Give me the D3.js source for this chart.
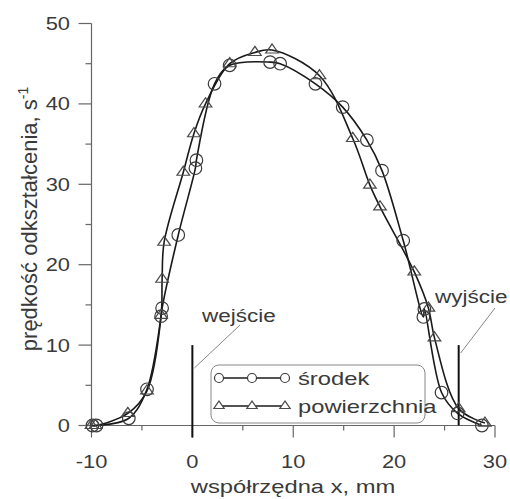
<!DOCTYPE html>
<html>
<head>
<meta charset="utf-8">
<script src="https://cdn.jsdelivr.net/npm/d3@7"></script>
<style>
  body { margin: 0; background: #fff; }
  svg text { font-family: "Liberation Sans", Arial, sans-serif; fill: #3a3a3a; }
</style>
</head>
<body>
<div id="chart"></div>
<script>
// środek (circles)
const srodekX = [-9.9, -9.5, -6.3, -4.5, -3.1, -3.0, -1.4, 0.3, 0.4, 2.2, 3.7, 7.7, 8.7, 12.2, 14.9, 17.3, 18.8, 20.9, 22.9, 23.0, 24.7, 26.3, 28.7];
const srodekY = [0, 0, 0.9, 4.5, 13.6, 14.6, 23.7, 32.0, 33.0, 42.5, 44.8, 45.2, 45.0, 42.5, 39.6, 35.5, 31.7, 23.0, 13.5, 14.5, 4.1, 1.5, 0];
// powierzchnia (triangles)
const powX = [-10, -9.6, -6.4, -4.5, -3.1, -3.0, -2.8, -0.9, 0.15, 1.3, 3.7, 6.2, 7.9, 12.6, 15.9, 17.6, 18.6, 22.0, 23.4, 24.0, 26.4, 29.0];
const powY = [0, 0, 1.5, 4.3, 13.7, 18.2, 22.8, 31.5, 36.3, 40.0, 45.0, 46.4, 46.7, 43.5, 35.7, 29.9, 27.2, 19.1, 14.6, 10.9, 2.1, 0.3];

const xTicks = [-10, 0, 10, 20, 30];
const xMinor = [-5, 5, 15, 25];
const yTicks = [0, 10, 20, 30, 40, 50];
const yMinor = [5, 15, 25, 35, 45];
const entryX = 0, exitX = 26.4, markerTop = 10;

const W = 510, H = 499;
const SX = 1.25; // the source picture is stretched horizontally

const svg = d3.select("#chart").append("svg").attr("width", W).attr("height", H);

const x = d3.scaleLinear().domain([-10, 30]).range([91.5, 495]);
const y = d3.scaleLinear().domain([0, 50]).range([425.5, 23.5]);

function txt(px, py, s, size, anchor, rot, sx) {
  const k = sx == null ? SX : sx;
  const g = svg.append("g").attr("transform", `translate(${px},${py}) scale(${k},1)` + (rot ? ` rotate(${rot})` : ""));
  const t = g.append("text").attr("text-anchor", anchor || "start").style("font-size", size + "px");
  return t.text(s);
}

const axisColor = "#666";
// y axis
svg.append("line").attr("x1", x(-10)).attr("x2", x(-10)).attr("y1", y(0)).attr("y2", y(50))
  .attr("stroke", axisColor).attr("stroke-width", 1.2);
yTicks.forEach(v => {
  svg.append("line").attr("x1", x(-10) - 13).attr("x2", x(-10)).attr("y1", y(v)).attr("y2", y(v))
    .attr("stroke", axisColor).attr("stroke-width", 1.2);
  txt(70, y(v) + 6.5, v, 17.5, "end");
});
yMinor.forEach(v => {
  svg.append("line").attr("x1", x(-10) - 6).attr("x2", x(-10)).attr("y1", y(v)).attr("y2", y(v))
    .attr("stroke", axisColor).attr("stroke-width", 1.2);
});
// x axis
svg.append("line").attr("x1", x(-10)).attr("x2", x(30)).attr("y1", y(0)).attr("y2", y(0))
  .attr("stroke", axisColor).attr("stroke-width", 1.2);
xTicks.forEach(v => {
  svg.append("line").attr("x1", x(v)).attr("x2", x(v)).attr("y1", y(0)).attr("y2", y(0) + 12)
    .attr("stroke", axisColor).attr("stroke-width", 1.2);
  txt(x(v), 468, v, 17.5, "middle");
});
xMinor.forEach(v => {
  svg.append("line").attr("x1", x(v)).attr("x2", x(v)).attr("y1", y(0)).attr("y2", y(0) + 5)
    .attr("stroke", axisColor).attr("stroke-width", 1.2);
});

// axis titles
txt(293, 493, "współrzędna x, mm", 19, "middle");
const yl = txt(37, 219, "", 22, "middle", -90, 1);
yl.append("tspan").text("prędkość odkształcenia, s");
yl.append("tspan").attr("dy", -9).style("font-size", "14px").text("-1");

// entry / exit markers
svg.append("line").attr("x1", x(entryX)).attr("x2", x(entryX)).attr("y1", y(markerTop)).attr("y2", y(0) + 12)
  .attr("stroke", "#111").attr("stroke-width", 2);
svg.append("line").attr("x1", x(exitX)).attr("x2", x(exitX)).attr("y1", y(markerTop)).attr("y2", y(0))
  .attr("stroke", "#111").attr("stroke-width", 2);
svg.append("line").attr("x1", x(entryX) + 2).attr("y1", 368).attr("x2", 240).attr("y2", 325)
  .attr("stroke", "#888").attr("stroke-width", 1);
svg.append("line").attr("x1", x(exitX) + 2).attr("y1", 353).attr("x2", 495).attr("y2", 308)
  .attr("stroke", "#888").attr("stroke-width", 1);
txt(202, 322, "wejście", 18, "start");
txt(435, 303, "wyjście", 18, "start");

// series
const srodek = srodekX.map((v, i) => ({ x: v, y: srodekY[i] }));
const pow = powX.map((v, i) => ({ x: v, y: powY[i] }));
const line = d3.line().x(d => x(d.x)).y(d => y(d.y)).curve(d3.curveCatmullRom.alpha(0.5));

svg.append("path").datum(srodek).attr("d", line).attr("fill", "none").attr("stroke", "#1a1a1a").attr("stroke-width", 1.6);
svg.append("path").datum(pow).attr("d", line).attr("fill", "none").attr("stroke", "#1a1a1a").attr("stroke-width", 1.6);

const tri = d3.symbol().type(d3.symbolTriangle).size(48);
svg.selectAll("circle.s").data(srodek).enter().append("circle")
  .attr("cx", d => x(d.x)).attr("cy", d => y(d.y)).attr("r", 6.3)
  .attr("fill", "none").attr("stroke", "#3a3a3a").attr("stroke-width", 1.2);
svg.selectAll("path.t").data(pow).enter().append("path")
  .attr("d", tri).attr("transform", d => `translate(${x(d.x)},${y(d.y)}) scale(1.2,1)`)
  .attr("fill", "none").attr("stroke", "#4a4a4a").attr("stroke-width", 1.1);

// legend
svg.append("rect").attr("x", 211).attr("y", 365).attr("width", 214).attr("height", 58).attr("rx", 8)
  .attr("fill", "none").attr("stroke", "#888").attr("stroke-width", 1);
const legendItems = [
  { name: "środek", kind: "circle", y: 378 },
  { name: "powierzchnia", kind: "triangle", y: 406 }
];
const legPos = [219, 252, 285];
legendItems.forEach(it => {
  svg.append("line").attr("x1", legPos[0]).attr("x2", legPos[2]).attr("y1", it.y).attr("y2", it.y)
    .attr("stroke", "#1a1a1a").attr("stroke-width", 1.3);
  legPos.forEach(px => {
    if (it.kind === "circle") {
      svg.append("circle").attr("cx", px).attr("cy", it.y).attr("r", 4.5)
        .attr("fill", "#fff").attr("stroke", "#3a3a3a").attr("stroke-width", 1.2);
    } else {
      svg.append("path").attr("d", d3.symbol().type(d3.symbolTriangle).size(32))
        .attr("transform", `translate(${px},${it.y}) scale(1.2,1)`)
        .attr("fill", "#fff").attr("stroke", "#4a4a4a").attr("stroke-width", 1.1);
    }
  });
  txt(298, it.y + 7, it.name, 19, "start");
});
</script>
</body>
</html>
